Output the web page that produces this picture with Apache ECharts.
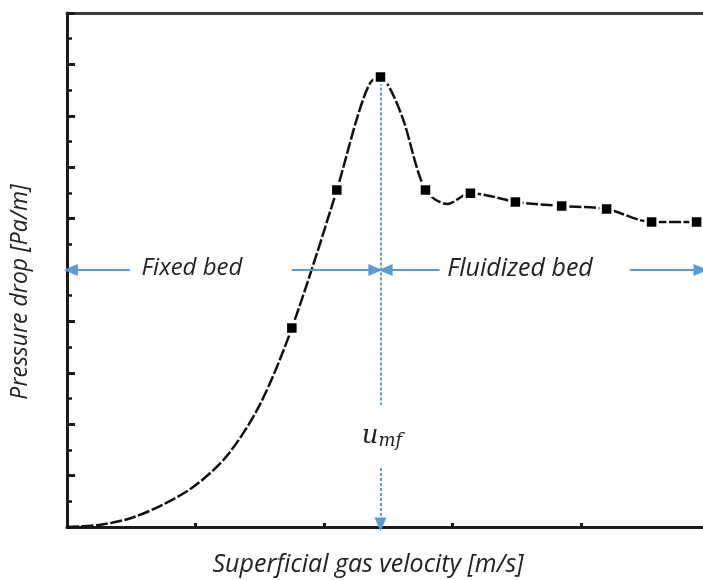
<!DOCTYPE html>
<html>
<head>
<meta charset="utf-8">
<title>Pressure drop vs superficial gas velocity</title>
<script src="https://cdn.jsdelivr.net/npm/echarts@6/dist/echarts.min.js"></script>
<style>
  html, body { margin: 0; padding: 0; background: #fff; }
  #chart { width: 703px; height: 580px; }
</style>
</head>
<body>
<div id="chart"></div>
<script>
// smooth curve (velocity, pressure drop)
const curveX = [0, 0.25, 0.5, 0.75, 1.0, 1.25, 1.5, 1.75, 2.10, 2.26, 2.36, 2.44, 2.52, 2.62, 2.79, 2.96, 3.14, 3.29, 3.49, 3.85, 4.20, 4.55, 4.90]
const curveY = [0, 0.08, 0.35, 0.88, 1.62, 2.8, 4.75, 7.74, 13.11, 15.95, 17.28, 17.51, 17.0, 15.8, 13.11, 12.57, 12.99, 12.88, 12.65, 12.49, 12.37, 11.87, 11.87]

// measured points (black squares)
const markerX = [1.75, 2.10, 2.44, 2.79, 3.14, 3.49, 3.85, 4.20, 4.55, 4.90]
const markerY = [7.74, 13.11, 17.51, 13.11, 12.99, 12.65, 12.49, 12.37, 11.87, 11.87]

const xTicks = [1, 2, 3, 4]
const umf = 2.44
const regimeY = 10

const blue = '#5B9BD5'
const chart = echarts.init(document.getElementById('chart'))

const arrow = (from, to, dotted) => [
  { coord: from, symbol: 'none', lineStyle: { color: blue, width: 2, type: dotted ? [3, 2] : 'solid' } },
  { coord: to, symbol: 'triangle', symbolSize: [12, 14] },
]

chart.setOption({
  animation: false,
  grid: { left: 67, top: 13, right: 0, bottom: 53 },
  xAxis: [
    {
      type: 'value', min: 0, max: 4.95,
      axisLine: { lineStyle: { color: '#1a1a1a', width: 3 } },
      axisTick: { inside: true, length: 4, customValues: xTicks, lineStyle: { color: '#1a1a1a', width: 3 } },
      axisLabel: { show: false },
      splitLine: { show: false },
    },
    {
      type: 'value', min: 0, max: 4.95, position: 'top',
      axisLine: { show: true, lineStyle: { color: '#3a3a3a', width: 3 } },
      axisTick: { show: false },
      axisLabel: { show: false },
      splitLine: { show: false },
    },
  ],
  yAxis: {
    type: 'value', min: 0, max: 20, interval: 2,
    axisLine: { show: true, lineStyle: { color: '#1a1a1a', width: 3 } },
    axisTick: { show: true, inside: true, length: 8, lineStyle: { color: '#1a1a1a', width: 3 } },
    minorTick: { show: true, splitNumber: 2, length: 5, lineStyle: { color: '#1a1a1a', width: 2.5 } },
    axisLabel: { show: false },
    splitLine: { show: false },
  },
  series: [
    {
      type: 'line',
      data: curveX.map((x, i) => [x, curveY[i]]),
      smooth: 0.3,
      showSymbol: false,
      lineStyle: { color: '#111', width: 2.5, type: [12, 2.5] },
      z: 2,
      markLine: {
        silent: true,
        animation: false,
        label: { show: false },
        data: [
          arrow([0.49, regimeY], [0.03, regimeY]),
          arrow([1.75, regimeY], [umf - 0.04, regimeY]),
          arrow([2.9, regimeY], [umf + 0.04, regimeY]),
          arrow([4.38, regimeY], [4.93, regimeY]),
          [
            { coord: [umf, 17.3], symbol: 'none', lineStyle: { color: blue, width: 2, type: [3, 2] } },
            { coord: [umf, 4.75], symbol: 'none' },
          ],
          arrow([umf, 2.3], [umf, 0.1], true),
        ],
      },
    },
    {
      type: 'scatter',
      data: markerX.map((x, i) => [x, markerY[i]]),
      symbol: 'rect',
      symbolSize: 12,
      itemStyle: { color: '#000', opacity: 1, borderColor: '#fff', borderWidth: 2.5 },
      z: 5,
    },
  ],
  graphic: [
    {
      type: 'text', x: 20, y: 292, rotation: Math.PI / 2,
      style: { text: 'Pressure drop [Pa/m]', font: 'italic 23px "Open Sans"', fill: '#222', align: 'center', verticalAlign: 'middle' },
    },
    {
      type: 'text', x: 368, y: 565,
      style: { text: 'Superficial gas velocity [m/s]', font: 'italic 25px "Open Sans"', fill: '#222', align: 'center', verticalAlign: 'middle' },
    },
    {
      type: 'text', x: 192, y: 268,
      style: { text: 'Fixed bed', font: 'italic 24px "Open Sans"', fill: '#222', align: 'center', verticalAlign: 'middle' },
    },
    {
      type: 'text', x: 520, y: 269,
      style: { text: 'Fluidized bed', font: 'italic 25px "Open Sans"', fill: '#222', align: 'center', verticalAlign: 'middle' },
    },
    {
      type: 'text', x: 382, y: 436,
      style: {
        text: '{u|u}{s|mf}',
        align: 'center', verticalAlign: 'middle',
        rich: {
          u: { font: 'italic 26px "DejaVu Serif"', fill: '#222' },
          s: { font: 'italic 18px "DejaVu Serif"', fill: '#222', padding: [10, 0, 0, 0] },
        },
      },
    },
  ],
})
</script>
</body>
</html>
